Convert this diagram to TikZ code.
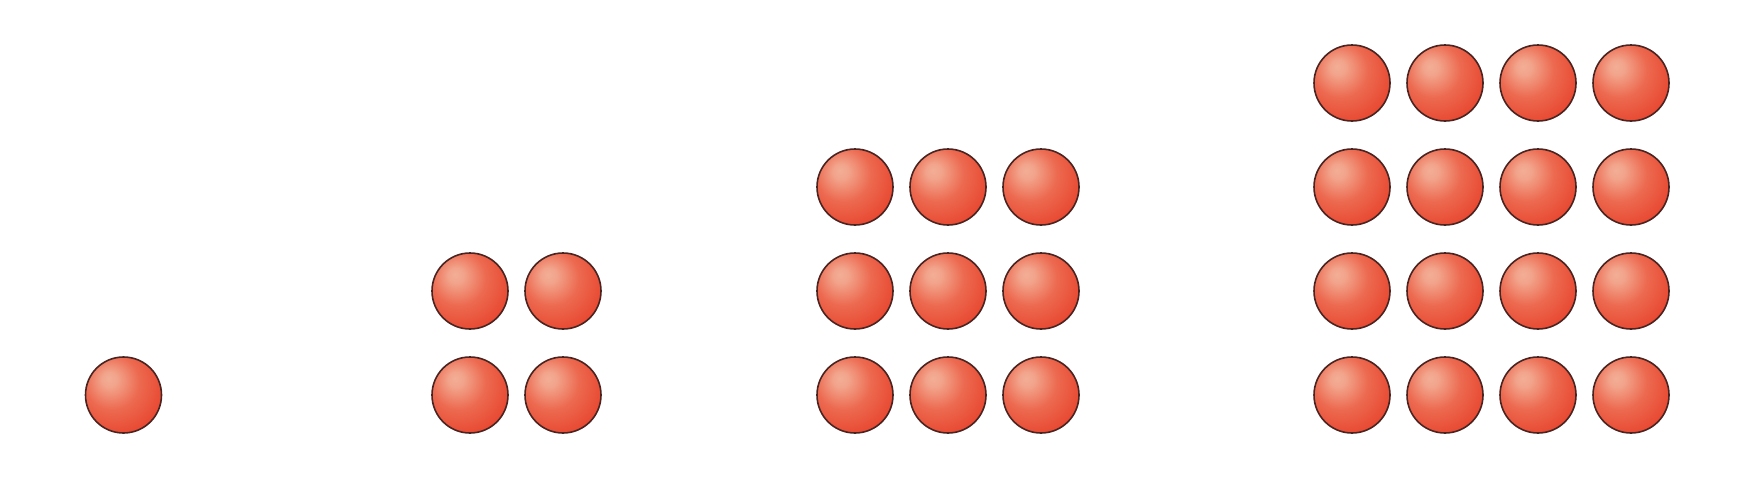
\documentclass[tikz,border=0pt]{standalone}
\usetikzlibrary{shadings}
\definecolor{hl}{HTML}{F3AE96}
\definecolor{mid}{HTML}{EC6A50}
\definecolor{base}{HTML}{E8462F}
\definecolor{edge}{HTML}{DC3222}
\definecolor{rim}{HTML}{4A2420}
\pgfdeclareradialshading{sphereshade}{\pgfpoint{-10bp}{11bp}}{%
  color(0bp)=(hl); color(5bp)=(hl!85!mid); color(18bp)=(mid); color(34bp)=(base); color(55bp)=(edge); color(80bp)=(edge)}
\tikzset{sphere/.style={circle, minimum size=76pt, inner sep=0pt, draw=rim, line width=1.6pt, shading=sphereshade}}
\begin{document}
\begin{tikzpicture}[x=1pt,y=-1pt]
\useasboundingbox (0,0) rectangle (1748,480);
% group 1
\node[sphere] (g1) at (123.5,395) {};
% group 2
\foreach \i/\x in {1/470,2/563}
  \foreach \j/\y in {1/395,2/291}
    \node[sphere] (g2-\i-\j) at (\x,\y) {};
% group 3
\foreach \i/\x in {1/855,2/948,3/1041}
  \foreach \j/\y in {1/395,2/291,3/187}
    \node[sphere] (g3-\i-\j) at (\x,\y) {};
% group 4
\foreach \i/\x in {1/1352,2/1445,3/1538,4/1631}
  \foreach \j/\y in {1/395,2/291,3/187,4/83}
    \node[sphere] (g4-\i-\j) at (\x,\y) {};
\end{tikzpicture}
\end{document}
